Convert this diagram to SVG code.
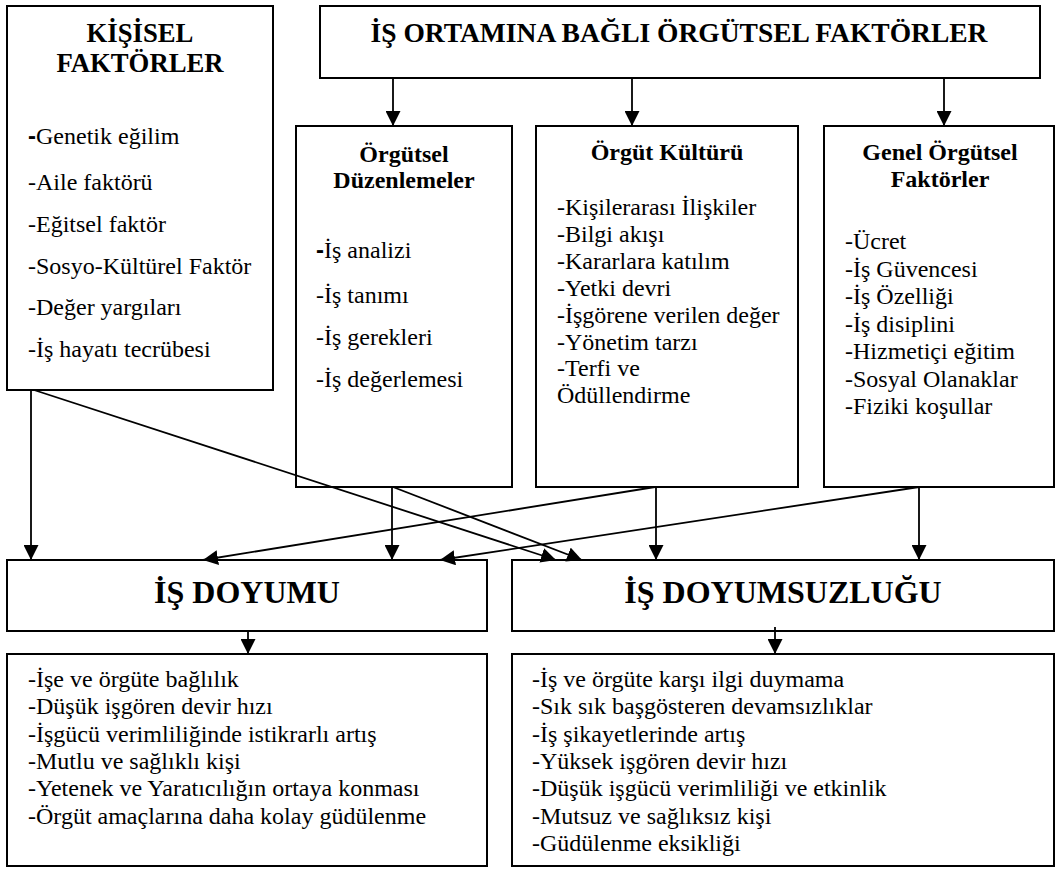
<svg xmlns="http://www.w3.org/2000/svg" width="1059" height="871" viewBox="0 0 1059 871">
<style>
.box{fill:#fff;stroke:#000;stroke-width:2}
.conn line{stroke:#000;stroke-width:1.8}
</style>
<defs>
<marker id="ah" viewBox="0 0 15 15" refX="15" refY="7.5" markerWidth="15" markerHeight="15" markerUnits="userSpaceOnUse" orient="auto">
<path d="M0,0 L15,7.5 L0,15 z" fill="#000"/>
</marker>
</defs>
<rect width="1059" height="871" fill="#fff"/>

<g id="kisisel">
<rect class="box" x="7" y="6" width="266" height="384"/>
<text x="140" y="42" font-family="Liberation Serif" font-size="26.7" font-weight="bold" text-anchor="middle">KİŞİSEL</text>
<text x="140" y="72" font-family="Liberation Serif" font-size="26.7" font-weight="bold" text-anchor="middle">FAKTÖRLER</text>
<text x="28" y="144" font-family="Liberation Serif" font-size="24"><tspan font-family="Liberation Sans" font-weight="bold">-</tspan>Genetik eğilim</text>
<text x="28" y="190" font-family="Liberation Serif" font-size="24">-Aile faktörü</text>
<text x="28" y="232" font-family="Liberation Serif" font-size="24">-Eğitsel faktör</text>
<text x="28" y="274" font-family="Liberation Serif" font-size="24">-Sosyo-Kültürel Faktör</text>
<text x="28" y="315" font-family="Liberation Serif" font-size="24">-Değer yargıları</text>
<text x="28" y="357" font-family="Liberation Serif" font-size="24">-İş hayatı tecrübesi</text>
</g>

<g id="is-ortami">
<rect class="box" x="320" y="6" width="720" height="72"/>
<text x="679" y="42" font-family="Liberation Serif" font-size="27.5" font-weight="bold" text-anchor="middle">İŞ ORTAMINA BAĞLI ÖRGÜTSEL FAKTÖRLER</text>
</g>

<g id="orgutsel-duzenlemeler">
<rect class="box" x="296" y="126" width="216" height="361"/>
<text x="404" y="162" font-family="Liberation Serif" font-size="24" font-weight="bold" text-anchor="middle">Örgütsel</text>
<text x="404" y="188" font-family="Liberation Serif" font-size="24" font-weight="bold" text-anchor="middle">Düzenlemeler</text>
<text x="316" y="258" font-family="Liberation Serif" font-size="24"><tspan font-family="Liberation Sans" font-weight="bold">-</tspan>İş analizi</text>
<text x="316" y="303" font-family="Liberation Serif" font-size="24">-İş tanımı</text>
<text x="316" y="345" font-family="Liberation Serif" font-size="24">-İş gerekleri</text>
<text x="316" y="387" font-family="Liberation Serif" font-size="24">-İş değerlemesi</text>
</g>

<g id="orgut-kulturu">
<rect class="box" x="536" y="126" width="262" height="361"/>
<text x="667" y="160" font-family="Liberation Serif" font-size="24" font-weight="bold" text-anchor="middle">Örgüt Kültürü</text>
<text x="557" y="215" font-family="Liberation Serif" font-size="24">-Kişilerarası İlişkiler</text>
<text x="557" y="242" font-family="Liberation Serif" font-size="24">-Bilgi akışı</text>
<text x="557" y="269" font-family="Liberation Serif" font-size="24">-Kararlara katılım</text>
<text x="557" y="296" font-family="Liberation Serif" font-size="24">-Yetki devri</text>
<text x="557" y="323" font-family="Liberation Serif" font-size="24">-İşgörene verilen değer</text>
<text x="557" y="350" font-family="Liberation Serif" font-size="24">-Yönetim tarzı</text>
<text x="557" y="376" font-family="Liberation Serif" font-size="24">-Terfi ve</text>
<text x="557" y="403" font-family="Liberation Serif" font-size="24">Ödüllendirme</text>
</g>

<g id="genel-orgutsel">
<rect class="box" x="824" y="126" width="230" height="361"/>
<text x="940" y="160" font-family="Liberation Serif" font-size="24" font-weight="bold" text-anchor="middle">Genel Örgütsel</text>
<text x="940" y="187" font-family="Liberation Serif" font-size="24" font-weight="bold" text-anchor="middle">Faktörler</text>
<text x="845" y="249" font-family="Liberation Serif" font-size="24">-Ücret</text>
<text x="845" y="277" font-family="Liberation Serif" font-size="24">-İş Güvencesi</text>
<text x="845" y="304" font-family="Liberation Serif" font-size="24">-İş Özelliği</text>
<text x="845" y="332" font-family="Liberation Serif" font-size="24">-İş disiplini</text>
<text x="845" y="359" font-family="Liberation Serif" font-size="24">-Hizmetiçi eğitim</text>
<text x="845" y="387" font-family="Liberation Serif" font-size="24">-Sosyal Olanaklar</text>
<text x="845" y="414" font-family="Liberation Serif" font-size="24">-Fiziki koşullar</text>
</g>

<g id="is-doyumu">
<rect class="box" x="7" y="560" width="480" height="71"/>
<text x="247" y="603" font-family="Liberation Serif" font-size="32" font-weight="bold" text-anchor="middle">İŞ DOYUMU</text>
</g>

<g id="is-doyumsuzlugu">
<rect class="box" x="512" y="560" width="542" height="71"/>
<text x="783" y="603" font-family="Liberation Serif" font-size="32" font-weight="bold" text-anchor="middle">İŞ DOYUMSUZLUĞU</text>
</g>

<g id="doyum-sonuclari">
<rect class="box" x="7" y="654" width="480" height="212"/>
<text x="28" y="687" font-family="Liberation Serif" font-size="24">-İşe ve örgüte bağlılık</text>
<text x="28" y="714" font-family="Liberation Serif" font-size="24">-Düşük işgören devir hızı</text>
<text x="28" y="742" font-family="Liberation Serif" font-size="24">-İşgücü verimliliğinde istikrarlı artış</text>
<text x="28" y="769" font-family="Liberation Serif" font-size="24">-Mutlu ve sağlıklı kişi</text>
<text x="28" y="796" font-family="Liberation Serif" font-size="24">-Yetenek ve Yaratıcılığın ortaya konması</text>
<text x="28" y="824" font-family="Liberation Serif" font-size="24">-Örgüt amaçlarına daha kolay güdülenme</text>
</g>

<g id="doyumsuzluk-sonuclari">
<rect class="box" x="512" y="654" width="542" height="212"/>
<text x="532" y="687" font-family="Liberation Serif" font-size="24">-İş ve örgüte karşı ilgi duymama</text>
<text x="532" y="714" font-family="Liberation Serif" font-size="24">-Sık sık başgösteren devamsızlıklar</text>
<text x="532" y="742" font-family="Liberation Serif" font-size="24">-İş şikayetlerinde artış</text>
<text x="532" y="769" font-family="Liberation Serif" font-size="24">-Yüksek işgören devir hızı</text>
<text x="532" y="796" font-family="Liberation Serif" font-size="24">-Düşük işgücü verimliliği ve etkinlik</text>
<text x="532" y="824" font-family="Liberation Serif" font-size="24">-Mutsuz ve sağlıksız kişi</text>
<text x="532" y="851" font-family="Liberation Serif" font-size="24">-Güdülenme eksikliği</text>
</g>

<g id="connectors" class="conn">
<line x1="393" y1="78" x2="393" y2="126" marker-end="url(#ah)"/>
<line x1="632" y1="78" x2="632" y2="126" marker-end="url(#ah)"/>
<line x1="944" y1="78" x2="944" y2="126" marker-end="url(#ah)"/>
<line x1="31" y1="390" x2="31" y2="560" marker-end="url(#ah)"/>
<line x1="34" y1="390" x2="556" y2="560" marker-end="url(#ah)"/>
<line x1="392" y1="487" x2="392" y2="560" marker-end="url(#ah)"/>
<line x1="393" y1="487" x2="582" y2="560" marker-end="url(#ah)"/>
<line x1="655" y1="487" x2="203" y2="560" marker-end="url(#ah)"/>
<line x1="656" y1="487" x2="656" y2="560" marker-end="url(#ah)"/>
<line x1="919" y1="487" x2="440" y2="560" marker-end="url(#ah)"/>
<line x1="919" y1="487" x2="919" y2="560" marker-end="url(#ah)"/>
<line x1="248" y1="631" x2="248" y2="654" marker-end="url(#ah)"/>
<line x1="775" y1="627" x2="775" y2="654" marker-end="url(#ah)"/>
</g>
</svg>
